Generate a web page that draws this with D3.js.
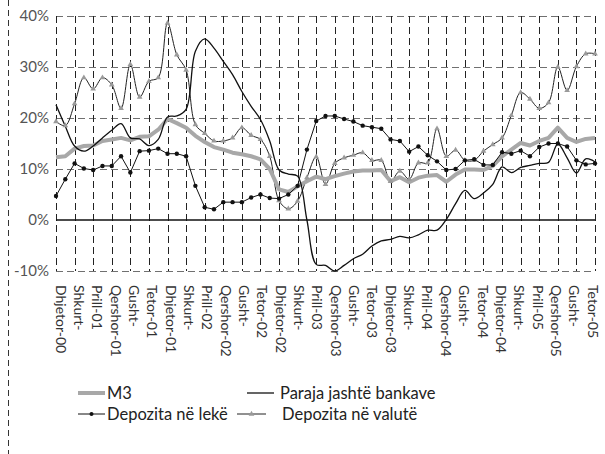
<!DOCTYPE html>
<html><head><meta charset="utf-8">
<script src="https://cdn.jsdelivr.net/npm/d3@7"></script>
<style>
body{margin:0;background:#fff;}
svg{display:block;font-family:Lato,"Noto Sans",sans-serif;}
</style></head>
<body><svg id="c" width="605" height="454"></svg>
<script>
// ---- data ----
const tickLabels = ["Dhjetor-00","Shkurt-","Prill-01","Qershor-01","Gusht-","Tetor-01","Dhjetor-01","Shkurt-","Prill-02","Qershor-02","Gusht-","Tetor-02","Dhjetor-02","Shkurt-","Prill-03","Qershor-03","Gusht-","Tetor-03","Dhjetor-03","Shkurt-","Prill-04","Qershor-04","Gusht-","Tetor-04","Dhjetor-04","Shkurt-","Prill-05","Qershor-05","Gusht-","Tetor-05"];
const months = d3.range(59); // Dec-2000 .. Oct-2005, monthly
const m3 = [12.3,12.5,14.0,14.5,14.6,15.5,15.8,16.1,15.6,16.3,16.4,17.7,19.8,19.0,18.1,16.5,15.3,14.3,13.8,13.2,12.9,12.5,11.9,10.0,6.0,5.5,6.6,7.6,8.5,8.0,8.6,9.1,9.5,9.7,9.7,9.8,7.6,8.4,7.4,8.3,8.7,8.8,7.5,8.9,9.9,9.9,9.8,10.6,12.5,13.8,15.1,14.6,15.5,16.1,18.1,16.1,15.3,15.9,16.1];
const paraja = [22.6,18.4,14.5,13.5,14.5,16.1,17.6,18.9,16.1,15.9,14.6,15.8,20.2,20.4,21.7,33.1,35.5,33.7,31.1,28.5,25.2,22.3,19.7,15.5,9.8,9.0,8.6,0.0,-8.7,-8.9,-10.0,-8.9,-7.6,-6.7,-5.1,-4.1,-3.8,-3.2,-3.5,-2.9,-2.0,-2.0,0.1,3.2,5.8,4.2,5.3,7.0,10.4,9.3,10.3,10.7,11.1,11.3,14.9,12.2,9.2,12.0,11.4];
const leke = [4.7,8.0,11.1,10.1,9.8,10.6,10.6,12.5,9.3,13.5,13.6,14.0,13.0,13.0,12.5,6.7,2.5,2.1,3.5,3.5,3.5,4.4,5.0,4.3,4.2,5.0,6.7,13.8,19.4,20.4,20.4,19.8,19.3,18.5,18.2,17.9,15.8,15.5,13.4,14.4,12.7,11.5,9.8,10.0,11.7,11.9,10.8,10.8,13.3,13.0,13.6,12.5,14.3,15.0,15.0,14.4,11.7,10.9,11.1];
const valute = [19.3,18.5,22.8,27.9,25.7,27.9,26.5,21.9,30.5,24.1,27.2,27.9,38.6,32.4,29.4,18.7,17.0,15.5,15.5,16.1,18.1,16.6,15.8,12.5,3.8,2.2,3.7,8.3,12.4,7.0,11.1,12.2,12.7,13.2,11.7,11.7,7.6,9.6,8.0,11.2,11.2,17.9,12.5,13.7,11.7,11.7,13.5,14.8,16.1,20.5,25.0,23.7,21.9,23.0,30.0,25.4,30.1,32.6,32.6];
const yTicks = [-10,0,10,20,30,40];
const seriesNames = ["M3","Paraja jashtë bankave","Depozita në lekë","Depozita në valutë"];

// ---- layout ----
const svg = d3.select("#c");
const L = 56, R = 595, T = 16, B = 271;
const x = d3.scaleLinear().domain([0,58]).range([L,R]);
const xLab = d3.scaleLinear().domain([0,58]).range([60,592]);
const y = d3.scaleLinear().domain([-10,40]).range([B,T]);

// outer left dashed border
svg.append("line").attr("x1",8.5).attr("x2",8.5).attr("y1",0).attr("y2",454)
  .attr("stroke","#333").attr("stroke-dasharray","6,4");

// y axis labels
const yAxis = d3.axisLeft(y).tickValues(yTicks).tickSize(0).tickPadding(7).tickFormat(d=>d+"%");
const gy = svg.append("g").attr("transform",`translate(${L},0)`).call(yAxis);
gy.select(".domain").remove();
gy.selectAll("text").attr("font-size",15).attr("fill","#555").attr("font-family","Lato,sans-serif");

// horizontal grid
svg.append("g").selectAll("line").data(yTicks.filter(d=>d!==0)).join("line")
  .attr("x1",L).attr("x2",R).attr("y1",d=>y(d)+0.5).attr("y2",d=>y(d)+0.5)
  .attr("stroke","#707070").attr("stroke-width",1.2).attr("stroke-dasharray","7,4");

// vertical grid (every 2 months)
const tickIdx = months.filter(i=>i%2===0);
svg.append("g").selectAll("line").data(tickIdx).join("line")
  .attr("x1",d=>Math.round(x(d))+0.5).attr("x2",d=>Math.round(x(d))+0.5).attr("y1",T).attr("y2",B)
  .attr("stroke","#222").attr("stroke-width",1).attr("stroke-dasharray","7,4");

// zero line
svg.append("line").attr("x1",L).attr("x2",R).attr("y1",y(0)).attr("y2",y(0))
  .attr("stroke","#111").attr("stroke-width",1.5);

// x axis labels
const xAxis = d3.axisBottom(xLab).tickValues(tickIdx).tickSize(0).tickFormat((d,i)=>tickLabels[i]);
const gx = svg.append("g").attr("transform",`translate(0,${B})`).call(xAxis);
gx.select(".domain").remove();
gx.selectAll("text").attr("font-size",14).attr("fill","#333").attr("font-family","Lato,sans-serif")
  .attr("text-anchor","start").attr("transform","translate(0,14) rotate(90)").attr("dy","0.35em").attr("x",0).attr("y",0);

// lines
const lineStraight = d3.line().x((d,i)=>x(i)).y(d=>y(d));
const lineSmooth = d3.line().x((d,i)=>x(i)).y(d=>y(d)).curve(d3.curveCatmullRom.alpha(0.5));

svg.append("path").attr("d",lineSmooth(valute)).attr("fill","none").attr("stroke","#222").attr("stroke-width",1);
svg.append("path").attr("d",lineStraight(m3)).attr("fill","none").attr("stroke","#a8a8a8").attr("stroke-width",4).attr("stroke-linejoin","round");
svg.append("path").attr("d",lineStraight(leke)).attr("fill","none").attr("stroke","#111").attr("stroke-width",1);
svg.append("path").attr("d",lineSmooth(paraja)).attr("fill","none").attr("stroke","#111").attr("stroke-width",1.3);

const tri = d3.symbol().type(d3.symbolTriangle).size(14);
svg.append("g").selectAll("path").data(valute).join("path")
  .attr("d",tri).attr("transform",(d,i)=>`translate(${x(i)},${y(d)})`).attr("fill","#9a9a9a");
svg.append("g").selectAll("circle").data(leke).join("circle")
  .attr("cx",(d,i)=>x(i)).attr("cy",d=>y(d)).attr("r",2.2).attr("fill","#111");

// legend
const leg = svg.append("g").attr("font-size",16.5).attr("fill","#222").attr("font-family","Lato,sans-serif");
const items = [
  {n:seriesNames[0], x1:78, x2:105, tx:107, y:393, stroke:"#a8a8a8", w:4, m:null},
  {n:seriesNames[1], x1:247, x2:274, tx:280, y:393, stroke:"#111", w:1.3, m:null},
  {n:seriesNames[2], x1:78, x2:105, tx:107, y:414, stroke:"#111", w:1, m:"c"},
  {n:seriesNames[3], x1:237, x2:266, tx:282, y:414, stroke:"#222", w:1, m:"t"}
];
items.forEach(it=>{
  leg.append("line").attr("x1",it.x1).attr("x2",it.x2).attr("y1",it.y).attr("y2",it.y)
    .attr("stroke",it.stroke).attr("stroke-width",it.w);
  const cx=(it.x1+it.x2)/2;
  if(it.m==="c") leg.append("circle").attr("cx",cx).attr("cy",it.y).attr("r",2).attr("fill","#111");
  if(it.m==="t") leg.append("path").attr("d",tri).attr("transform",`translate(${cx},${it.y})`).attr("fill","#9a9a9a");
  leg.append("text").attr("x",it.tx).attr("y",it.y).attr("dy","0.35em").text(it.n);
});
</script></body></html>
